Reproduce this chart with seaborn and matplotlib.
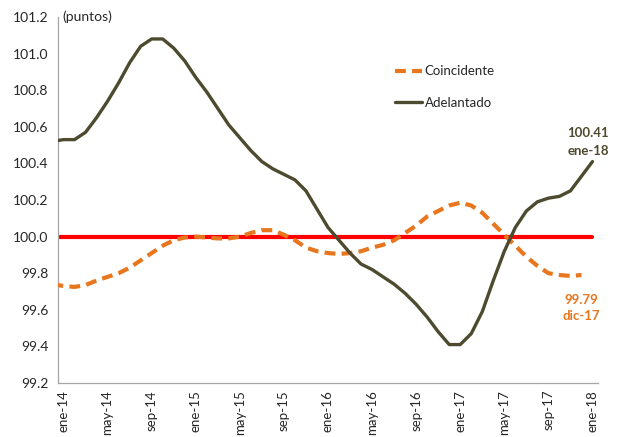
import numpy as np
import pandas as pd
import matplotlib
matplotlib.use("Agg")
import matplotlib.pyplot as plt
import seaborn as sns
from matplotlib.ticker import FixedLocator, FormatStrFormatter

# Monthly categories (dic-13 sits just left of the axis and is clipped)
meses = ["dic-13"]
for anio in ["14", "15", "16", "17"]:
    for m in ["ene", "feb", "mar", "abr", "may", "jun", "jul", "ago", "sep", "oct", "nov", "dic"]:
        meses.append(f"{m}-{anio}")
meses.append("ene-18")

coincidente = [99.74,
               99.73, 99.725, 99.735, 99.76, 99.78, 99.80, 99.83, 99.87, 99.91, 99.95, 99.98, 99.995,
               100.00, 99.995, 99.99, 99.99, 100.00, 100.02, 100.035, 100.035, 100.01, 99.98, 99.94, 99.92,
               99.91, 99.905, 99.91, 99.92, 99.94, 99.955, 99.98, 100.02, 100.06, 100.11, 100.14, 100.17,
               100.185, 100.17, 100.13, 100.07, 100.01, 99.95, 99.89, 99.84, 99.80, 99.79, 99.785, 99.79,
               np.nan]
adelantado = [100.52,
              100.53, 100.53, 100.57, 100.65, 100.74, 100.84, 100.95, 101.04, 101.08, 101.08, 101.03, 100.96,
              100.87, 100.79, 100.70, 100.61, 100.54, 100.47, 100.41, 100.37, 100.34, 100.31, 100.25, 100.15,
              100.05, 99.98, 99.91, 99.85, 99.82, 99.78, 99.74, 99.69, 99.63, 99.56, 99.48, 99.41,
              99.41, 99.47, 99.59, 99.76, 99.92, 100.05, 100.14, 100.19, 100.21, 100.22, 100.25, 100.33,
              100.41]
base = [100.0] * len(meses)

etiquetas_x = ["ene-14", "may-14", "sep-14", "ene-15", "may-15", "sep-15", "ene-16",
               "may-16", "sep-16", "ene-17", "may-17", "sep-17", "ene-18"]
ticks_y = [99.2, 99.4, 99.6, 99.8, 100.0, 100.2, 100.4, 100.6, 100.8, 101.0, 101.2]

df = pd.DataFrame({"mes": meses, "coincidente": coincidente,
                   "adelantado": adelantado, "base": base})
df["x"] = np.arange(len(df)) - 0.5  # points centred between month boundaries

sns.set_style("white")
plt.rcParams["font.family"] = ["Lato", "DejaVu Sans"]

OLIVA = "#4d4a2f"
NARANJA = "#e8761e"
TXT = "#262626"

fig = plt.figure(figsize=(6.18, 4.37), dpi=100)
ax = fig.add_axes([58 / 618, 1 - 383 / 437, 540 / 618, 366 / 437])

sns.lineplot(data=df, x="x", y="base", ax=ax, color="#ff0000", linewidth=3.0, zorder=2)
sns.lineplot(data=df, x="x", y="coincidente", ax=ax, color=NARANJA, linewidth=3.0,
             linestyle=(0, (2.6, 1.5)), label="Coincidente", zorder=3)
sns.lineplot(data=df, x="x", y="adelantado", ax=ax, color=OLIVA, linewidth=2.4,
             label="Adelantado", zorder=4)

ax.set_xlim(0, 49)
ax.set_ylim(99.2, 101.2)
ax.set_xlabel("")
ax.set_ylabel("")

# labels centred on the month, tick marks on the boundaries
pos_lab = [i * 4 + 0.5 for i in range(len(etiquetas_x))]
ax.xaxis.set_major_locator(FixedLocator(pos_lab))
ax.set_xticklabels(etiquetas_x, rotation=90, fontsize=9.5, color=TXT, va="top")
ax.xaxis.set_minor_locator(FixedLocator([i * 4 for i in range(len(etiquetas_x))]))
ax.tick_params(axis="x", which="major", length=0, pad=5)
ax.tick_params(axis="x", which="minor", length=4, width=0.8, color="#a6a6a6", direction="out")

ax.set_yticks(ticks_y)
ax.yaxis.set_major_formatter(FormatStrFormatter("%.1f"))
ax.tick_params(axis="y", length=4, width=0.8, color="#a6a6a6", labelsize=10,
               labelcolor=TXT, pad=3, direction="out")

for s in ["top", "right"]:
    ax.spines[s].set_visible(False)
for s in ["left", "bottom"]:
    ax.spines[s].set_color("#a6a6a6")
    ax.spines[s].set_linewidth(0.9)

ax.text(0.4, 101.2, "(puntos)", fontsize=10, color=TXT, va="center", ha="left")

leg = ax.legend(loc="upper left", bbox_to_anchor=(0.603, 0.90), frameon=False, fontsize=9.5,
                labelspacing=1.45, handlelength=2.0, handletextpad=0.2)
for t in leg.get_texts():
    t.set_color(TXT)

ax.text(48.1, 100.517, f"{adelantado[-1]:.2f}\nene-18", ha="center", va="center",
        fontsize=9.5, fontweight="bold", color=OLIVA, linespacing=1.6)
ax.text(47.5, 99.61, f"{coincidente[-2]:.2f}\ndic-17", ha="center", va="center",
        fontsize=9.5, fontweight="bold", color=NARANJA, linespacing=1.45)

fig.savefig("out.png", dpi=100)
